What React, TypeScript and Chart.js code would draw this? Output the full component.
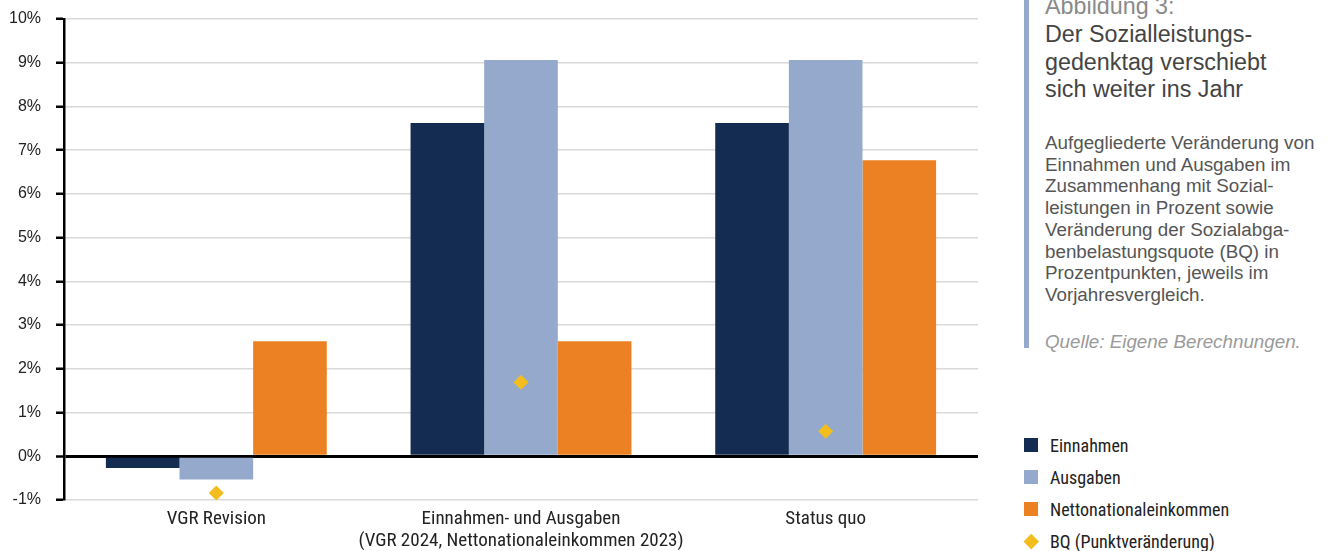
import React, { useEffect, useRef } from "react";
import { Chart, registerables } from "chart.js";
Chart.register(...registerables);

const categories: string[][] = [
  ["VGR Revision"],
  ["Einnahmen- und Ausgaben", "(VGR 2024, Nettonationaleinkommen 2023)"],
  ["Status quo"],
];
const einnahmen = [-0.27, 7.62, 7.62];
const ausgaben = [-0.53, 9.06, 9.06];
const netto = [2.63, 2.63, 6.77];
const bq = [-0.84, 1.69, 0.57];
const yMin = -1;
const yMax = 10;

const seriesNames = ["Einnahmen", "Ausgaben", "Nettonationaleinkommen", "BQ (Punktveränderung)"];
const colors = ["#152C52", "#94A9CB", "#EC8123", "#F2BD1D"];

const condensed = "'Liberation Sans Narrow', 'Roboto Condensed', 'DejaVu Sans Condensed', 'Liberation Sans', sans-serif";
const sans = "'Liberation Sans', Arial, sans-serif";

export default function App() {
  const ref = useRef<HTMLCanvasElement | null>(null);
  useEffect(() => {
    if (!ref.current) return;
    const chart = new Chart(ref.current, {
      type: "bar",
      data: {
        labels: categories,
        datasets: [
          { type: "bar", label: seriesNames[0], data: einnahmen, backgroundColor: colors[0], borderWidth: 0, order: 2 },
          { type: "bar", label: seriesNames[1], data: ausgaben, backgroundColor: colors[1], borderWidth: 0, order: 2 },
          { type: "bar", label: seriesNames[2], data: netto, backgroundColor: colors[2], borderWidth: 0, order: 2 },
          {
            type: "line",
            label: seriesNames[3],
            data: bq,
            showLine: false,
            pointStyle: "rectRot",
            pointRadius: 7.5,
            pointBorderWidth: 0,
            pointBackgroundColor: colors[3],
            borderColor: colors[3],
            backgroundColor: colors[3],
            order: 1,
          } as any,
        ],
      },
      options: {
        animation: false,
        responsive: true,
        maintainAspectRatio: false,
        layout: { padding: { top: 19, right: 12, left: 0, bottom: 0 } },
        datasets: { bar: { categoryPercentage: 0.725, barPercentage: 1.0 } },
        plugins: { legend: { display: false }, tooltip: { enabled: false } },
        scales: {
          x: {
            grid: { display: false, drawTicks: false },
            border: { display: false },
            ticks: {
              color: "#222",
              padding: 8,
              font: { family: condensed, size: 19, lineHeight: 1.16 },
              maxRotation: 0,
              autoSkip: false,
            },
            afterFit: (s: any) => {
              s.height = 51;
              s.paddingLeft = 0;
              s.paddingRight = 0;
            },
          },
          y: {
            min: yMin,
            max: yMax,
            ticks: {
              stepSize: 1,
              color: "#222",
              padding: 15,
              font: { family: sans, size: 16 },
              callback: (v: any) => `${v}%`,
            },
            grid: {
              color: (ctx: any) => (ctx.tick && ctx.tick.value === 0 ? "#000" : "#d9d9d9"),
              lineWidth: (ctx: any) => (ctx.tick && ctx.tick.value === 0 ? 3 : 1.5),
              tickColor: "#000",
              tickWidth: 2.5,
              tickLength: 8,
              drawTicks: true,
            },
            border: { display: true, color: "#000", width: 2.5 },
            afterFit: (s: any) => {
              s.width = 64;
              s.paddingTop = 0;
              s.paddingBottom = 0;
            },
          },
        },
      },
    });
    return () => chart.destroy();
  }, []);

  const legendItem = (i: number) => (
    <div key={i} style={{ position: "absolute", left: 0, top: i * 32, height: 20, display: "flex", alignItems: "center" }}>
      {i < 3 ? (
        <div style={{ width: 14, height: 14, background: colors[i], marginLeft: 0 }} />
      ) : (
        <div style={{ width: 14, height: 14, display: "flex", alignItems: "center", justifyContent: "center" }}>
          <div style={{ width: 10.5, height: 10.5, background: colors[3], transform: "rotate(45deg)" }} />
        </div>
      )}
      <span style={{ marginLeft: 12, fontFamily: condensed, fontSize: 18, color: "#222", whiteSpace: "nowrap" }}>
        {seriesNames[i]}
      </span>
    </div>
  );

  return (
    <div style={{ position: "absolute", left: 0, top: 0, width: 1328, height: 551, background: "#fff", overflow: "hidden" }}>
      <div style={{ position: "absolute", left: 0, top: 0, width: 990, height: 551 }}>
        <canvas ref={ref} />
      </div>
      <div style={{ position: "absolute", left: 1024, top: 0, width: 4.5, height: 348, background: "#94A9CB" }} />
      <div style={{ position: "absolute", left: 1045, top: -8, width: 290, fontFamily: sans, color: "#444" }}>
        <div style={{ fontSize: 23.3, lineHeight: "29px", color: "#8a8a8a", whiteSpace: "nowrap" }}>Abbildung 3:</div>
        <div style={{ fontSize: 23.3, lineHeight: "27.5px", color: "#444", whiteSpace: "nowrap" }}>
          Der Sozialleistungs-
          <br />
          gedenktag verschiebt
          <br />
          sich weiter ins Jahr
        </div>
        <div style={{ fontSize: 18.8, lineHeight: "21.7px", color: "#555", marginTop: 28.5, whiteSpace: "nowrap" }}>
          Aufgegliederte Veränderung von
          <br />
          Einnahmen und Ausgaben im
          <br />
          Zusammenhang mit Sozial-
          <br />
          leistungen in Prozent sowie
          <br />
          Veränderung der Sozialabga-
          <br />
          benbelastungsquote (BQ) in
          <br />
          Prozentpunkten, jeweils im
          <br />
          Vorjahresvergleich.
        </div>
        <div style={{ fontSize: 18.8, lineHeight: "21.7px", color: "#9a9a9a", fontStyle: "italic", marginTop: 25.5, whiteSpace: "nowrap" }}>
          Quelle: Eigene Berechnungen.
        </div>
      </div>
      <div style={{ position: "absolute", left: 1024, top: 435, width: 300, height: 130 }}>
        {[0, 1, 2, 3].map(legendItem)}
      </div>
    </div>
  );
}
